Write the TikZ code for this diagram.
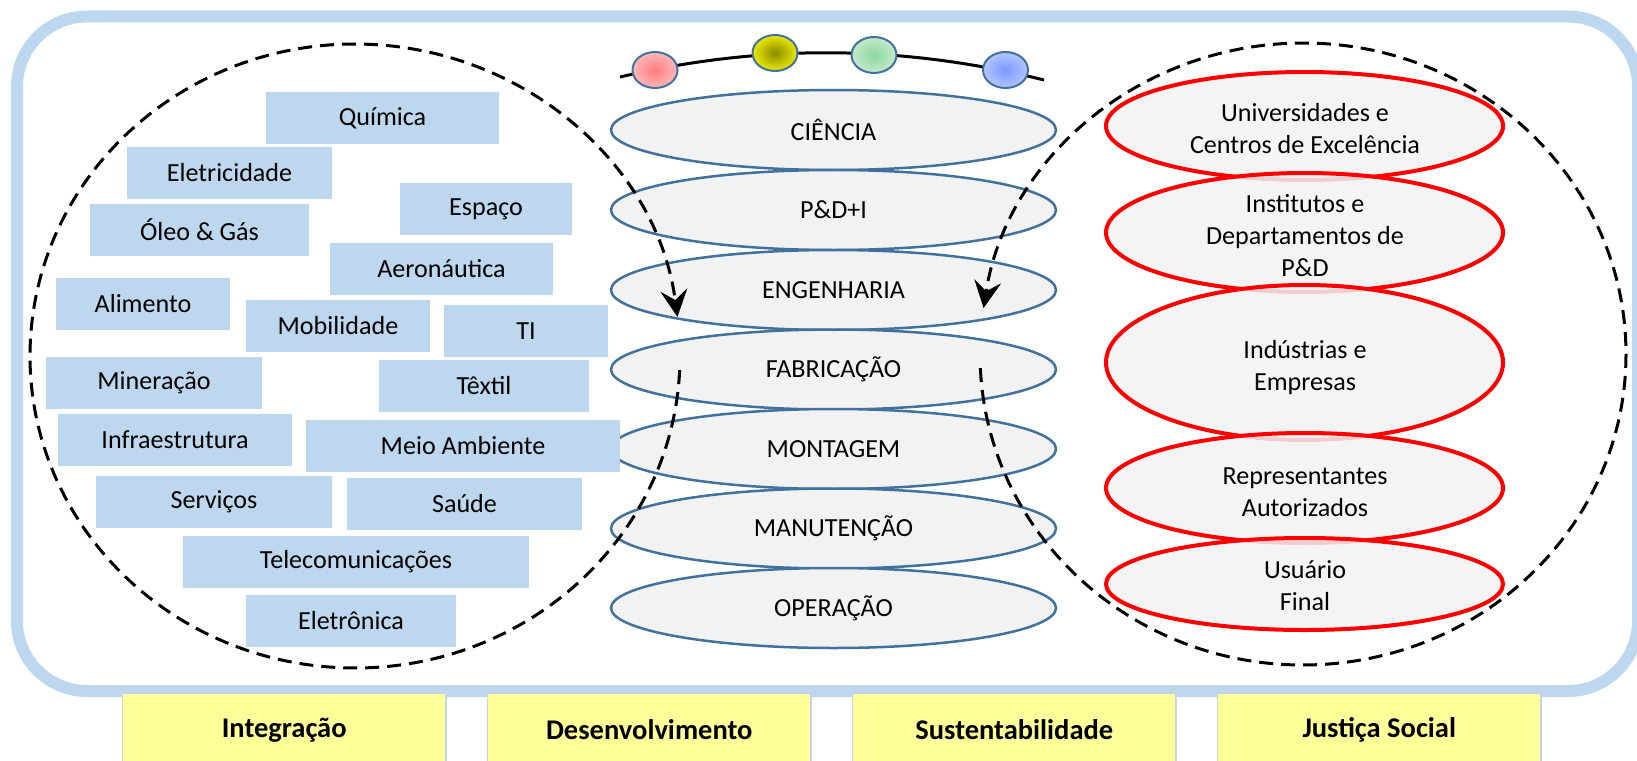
\documentclass[tikz,border=0pt]{standalone}
\usepackage{fontspec}
\setmainfont{Carlito}
\usetikzlibrary{shapes.geometric,arrows.meta}
\definecolor{frameblue}{HTML}{BDD7EE}
\definecolor{boxblue}{HTML}{BDD7EE}
\definecolor{ellblue}{HTML}{41719C}
\definecolor{ellfill}{HTML}{F2F2F2}
\definecolor{yel}{HTML}{FFFF99}
\definecolor{yelborder}{HTML}{C5D3E8}
\definecolor{ballredin}{HTML}{FF7C80}
\definecolor{ballredout}{HTML}{FFB8BA}
\definecolor{ballyelin}{HTML}{8A8A00}
\definecolor{ballyelout}{HTML}{EAEA00}
\definecolor{ballgrnin}{HTML}{8CD7A0}
\definecolor{ballgrnout}{HTML}{C4EACB}
\definecolor{ballbluin}{HTML}{7898FF}
\definecolor{ballbluout}{HTML}{B4C6FF}
\begin{document}
\begin{tikzpicture}[x=1pt,y=1pt,
  txt/.style={font=\fontsize{26.1}{32}\selectfont},
  sector/.style={rectangle, fill=boxblue, minimum height=52pt, inner sep=0pt, txt},
  stage/.style={ellipse, draw=ellblue, line width=2.5pt, fill=ellfill, minimum width=445pt, minimum height=80pt, inner sep=0pt, txt},
  actor/.style={ellipse, draw=red, line width=4pt, fill=ellfill, fill opacity=0.85, minimum width=397pt, inner sep=0pt},
  actortext/.style={align=center, inner sep=0pt, txt},
  pillar/.style={rectangle, fill=yel, draw=yelborder, line width=1.5pt, minimum width=323.5pt, minimum height=74pt, inner sep=0pt, font=\fontsize{28.5}{34}\selectfont\bfseries},
  ball/.style={ellipse, draw=ellblue, line width=2pt, minimum width=45pt, minimum height=36pt, inner sep=0pt},
  loop/.style={black, line width=3pt, dash pattern=on 14pt off 8pt},
  tip/.style={-{Stealth[length=27pt, width=27pt, inset=10pt]}}
]
\useasboundingbox (0,0) rectangle (1637,-760);

% outer frame
\draw[frameblue, line width=12pt, rounded corners=70pt] (17,-16.5) rectangle (1638,-691);

% life-cycle stages
\node[stage] (ciencia) at (833.5,-130)   {CIÊNCIA};
\node[stage] (pdi)     at (833.5,-210)   {P\&D+I};
\node[stage] (eng)     at (833.5,-290)   {ENGENHARIA};
\node[stage] (fab)     at (833.5,-369.5) {FABRICAÇÃO};
\node[stage] (mont)    at (833.5,-449)   {MONTAGEM};
\node[stage] (man)     at (833.5,-528.5) {MANUTENÇÃO};
\node[stage] (oper)    at (833.5,-608)   {OPERAÇÃO};

% actors
\node[actor, minimum height=108pt] (a1) at (1304.5,-126) {};
\node[actor, minimum height=119pt] (a2) at (1304.5,-232.5) {};
\node[actor, minimum height=155pt] (a3) at (1304.5,-362.5) {};
\node[actor, minimum height=110pt] (a4) at (1304.5,-488) {};
\node[actor, minimum height=92pt]  (a5) at (1304.5,-584) {};
\node[actortext] (t1) at (1305,-129)   {Universidades e\\Centros de Excelência};
\node[actortext] (t2) at (1305,-236)   {Institutos e\\Departamentos de\\P\&D};
\node[actortext] (t3) at (1305,-367.5) {Indústrias e\\Empresas};
\node[actortext] (t4) at (1305,-492.5) {Representantes\\Autorizados};
\node[actortext] (t5) at (1305,-585.5) {Usuário\\Final};

% sectors
\node[sector, minimum width=233pt] (s1)  at (382.5,-118) {Química};
\node[sector, minimum width=205pt] (s2)  at (229.5,-173) {Eletricidade};
\node[sector, minimum width=172pt] (s3)  at (486,-209)   {Espaço};
\node[sector, minimum width=219pt] (s4)  at (199.5,-230) {Óleo \& Gás};
\node[sector, minimum width=223pt] (s5)  at (441.5,-269) {Aeronáutica};
\node[sector, minimum width=174pt] (s6)  at (143,-304)   {Alimento};
\node[sector, minimum width=184pt] (s7)  at (338,-326)   {Mobilidade};
\node[sector, minimum width=164pt] (s8)  at (526,-331)   {TI};
\node[sector, minimum width=216pt] (s9)  at (154,-383)   {Mineração};
\node[sector, minimum width=210pt] (s10) at (484,-386)   {Têxtil};
\node[sector, minimum width=234pt] (s11) at (175,-440)   {Infraestrutura};
\node[sector, minimum width=314pt] (s12) at (463,-446)   {Meio Ambiente};
\node[sector, minimum width=236pt] (s13) at (214,-502)   {Serviços};
\node[sector, minimum width=235pt] (s14) at (464.5,-504) {Saúde};
\node[sector, minimum width=346pt] (s15) at (356,-562)   {Telecomunicações};
\node[sector, minimum width=210pt] (s16) at (351,-621)   {Eletrônica};

% arc with balls
\coordinate (arcL) at (620,-77);
\coordinate (arcR) at (1044,-80);
\draw[black, line width=3pt] (arcL) .. controls (761.3,-43.7) and (902.7,-44.7) .. (arcR);
\node[ball, inner color=ballredin, outer color=ballredout] (b1) at (655,-70) {};
\node[ball, inner color=ballyelin, outer color=ballyelout] (b2) at (775,-53) {};
\node[ball, inner color=ballgrnin, outer color=ballgrnout] (b3) at (874,-55) {};
\node[ball, inner color=ballbluin, outer color=ballbluout] (b4) at (1005.5,-70) {};

% dashed cycles
\draw[loop, tip] (355,-356) ++(-2.6:325 and 312) arc[start angle=-2.6, end angle=-352.8, x radius=325, y radius=312];
\draw[loop, tip] (1303,-354) ++(-177.4:323 and 311) arc[start angle=-177.4, end angle=171.5, x radius=323, y radius=311];

% pillars
\node[pillar] (p1) at (284.25,-730) {Integração};
\node[pillar] (p2) at (649.25,-730) {Desenvolvimento};
\node[pillar] (p3) at (1014.25,-730) {Sustentabilidade};
\node[pillar] (p4) at (1379.25,-730) {Justiça Social};
\end{tikzpicture}
\end{document}
